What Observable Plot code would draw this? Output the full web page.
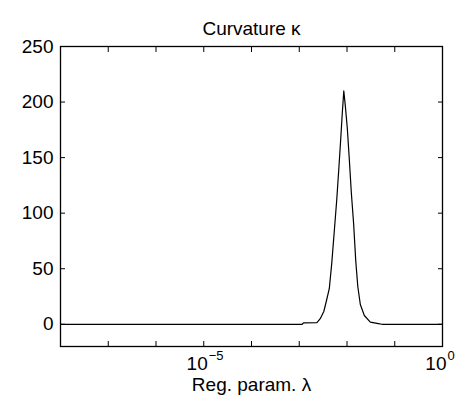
<!DOCTYPE html>
<html><head><meta charset="utf-8">
<script src="https://cdn.jsdelivr.net/npm/d3@7"></script>
<script src="https://cdn.jsdelivr.net/npm/@observablehq/plot@0.6"></script>
<style>body{margin:0;background:#fff;}</style>
</head><body><div id="chart"></div>
<script>
const title = "Curvature κ";
const xLabel = "Reg. param. λ";
// log10 of the regularization parameter λ, and curvature κ
const log10Lambda = [-8, -2.94, -2.91, -2.63, -2.56, -2.486, -2.434, -2.371, -2.319, -2.266, -2.214, -2.172, -2.134, -2.099, -2.067, -2.036, -1.994, -1.952, -1.910, -1.862, -1.816, -1.774, -1.721, -1.637, -1.512, -1.344, -1.266, 0];
const kappa       = [0,  0,     1.3,   1.5,   5,     11.5,   20.5,   32,     55,     84,     112.5,  139.5,  165,    190,    210,    197,    176.6,  148.7,  118.9,  90.9,   56.6,   34,     17.8,   7.9,    2,      0.6,    0,      0];
const xTickExps = [-8, -7, -6, -5, -4, -3, -2, -1, 0];
const xLabelExps = [-5, 0];
const yTicks = [0, 50, 100, 150, 200, 250];

const data = log10Lambda.map((e, i) => ({lambda: 10 ** e, kappa: kappa[i]}));
const xTicks = xTickExps.map(e => 10 ** e);
const font = "'Liberation Sans', Arial, Helvetica, sans-serif";

const chart = Plot.plot({
  width: 474, height: 407,
  marginLeft: 60, marginRight: 32, marginTop: 46, marginBottom: 61,
  style: {fontFamily: font, fontSize: "19px", background: "white", color: "black"},
  x: {type: "log", domain: [1e-8, 1]},
  y: {domain: [-20, 250]},
  marks: [
    Plot.axisY(yTicks, {anchor: "left", tickSize: 0, tickPadding: 7, label: null, fontSize: 19}),
    Plot.axisY(yTicks, {anchor: "left", tickSize: -5, tickFormat: () => "", label: null}),
    Plot.axisY(yTicks, {anchor: "right", tickSize: -5, tickFormat: () => "", label: null}),
    Plot.axisX(xTicks, {anchor: "bottom", tickSize: -5, tickFormat: () => "", label: null}),
    Plot.axisX(xTicks, {anchor: "top", tickSize: -5, tickFormat: () => "", label: null}),
    Plot.text(xLabelExps, {x: e => 10 ** e, frameAnchor: "bottom", dy: 23, dx: 4, text: () => "10", textAnchor: "end", fontSize: 19}),
    Plot.text(xLabelExps, {x: e => 10 ** e, frameAnchor: "bottom", dy: 13, dx: 5, text: e => e < 0 ? "\u2212" + (-e) : String(e), textAnchor: "start", fontSize: 13}),
    Plot.line(data, {x: "lambda", y: "kappa", stroke: "black", strokeWidth: 1.2}),
    Plot.frame({stroke: "black", strokeWidth: 1.3}),
    Plot.text([title], {frameAnchor: "top", dy: -25, text: d => d, fontSize: 19}),
    Plot.text([xLabel], {frameAnchor: "bottom", dy: 44, text: d => d, fontSize: 19})
  ]
});
document.getElementById("chart").appendChild(chart);
</script>
</body></html>
